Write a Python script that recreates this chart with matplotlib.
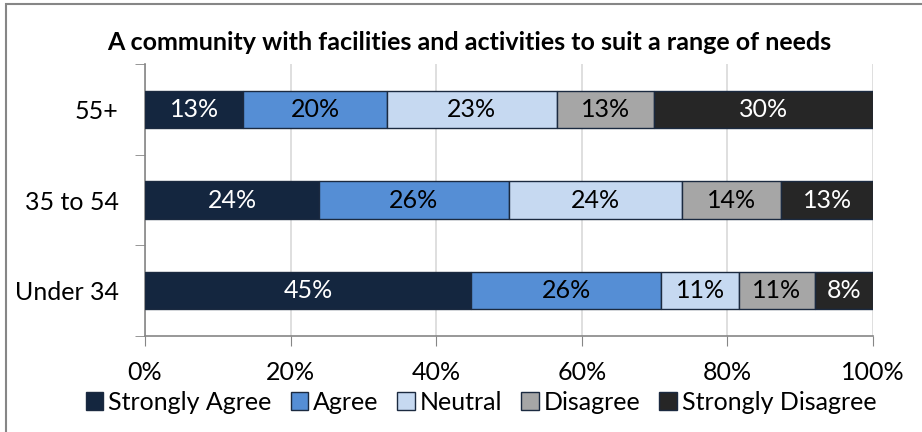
import matplotlib
matplotlib.use("Agg")
import matplotlib.pyplot as plt
from matplotlib.patches import Rectangle
import numpy as np

categories = ["Under 34", "35 to 54", "55+"]
series_names = ["Strongly Agree", "Agree", "Neutral", "Disagree", "Strongly Disagree"]
# values per series, in category order (Under 34, 35 to 54, 55+)
strongly_agree = [44.8, 23.9, 13.5]
agree = [26.1, 26.1, 19.7]
neutral = [10.7, 23.8, 23.4]
disagree = [10.4, 13.6, 13.3]
strongly_disagree = [8.0, 12.6, 30.1]
labels_sa = ["45%", "24%", "13%"]
labels_ag = ["26%", "26%", "20%"]
labels_ne = ["11%", "24%", "23%"]
labels_di = ["11%", "14%", "13%"]
labels_sd = ["8%", "13%", "30%"]
x_ticks = [0, 20, 40, 60, 80, 100]
x_ticklabels = ["0%", "20%", "40%", "60%", "80%", "100%"]
title = "A community with facilities and activities to suit a range of needs"

colors = ["#14263F", "#558ED5", "#C6D9F1", "#A6A6A6", "#262626"]
text_colors = ["white", "black", "black", "black", "white"]

plt.rcParams['font.family'] = ['Lato', 'DejaVu Sans']

fig = plt.figure(figsize=(9.22, 4.32), dpi=100)
ax = fig.add_axes([145/922, 1-336/432, (873-145)/922, (336-64)/432])

series = [strongly_agree, agree, neutral, disagree, strongly_disagree]
labels = [labels_sa, labels_ag, labels_ne, labels_di, labels_sd]
y = np.arange(len(categories))
left = np.zeros(len(categories))
for vals, lab, c, tc, name in zip(series, labels, colors, text_colors, series_names):
    vals = np.array(vals)
    ax.barh(y, vals, left=left, height=0.41, color=c, edgecolor="#1b2a40",
            linewidth=1.0, label=name, zorder=3)
    for yi, l, v, t in zip(y, left, vals, lab):
        ax.text(l + v/2, yi, t, ha="center", va="center", color=tc, fontsize=18, zorder=4)
    left = left + vals

ax.set_xlim(0, 100)
ax.set_ylim(-0.5, 2.5)
ax.set_xticks(x_ticks)
ax.set_xticklabels(x_ticklabels, fontsize=18)
ax.set_yticks(y)
ax.set_yticklabels(categories, fontsize=18)
ax.tick_params(axis="y", length=0, pad=19)
ax.tick_params(axis="x", length=7, color="#868686", pad=11, direction="out")
# category boundary ticks on y axis
ax.set_yticks([-0.5, 0.5, 1.5, 2.5], minor=True)
ax.tick_params(axis="y", which="minor", length=7, color="#868686", direction="out")
ax.grid(axis="x", color="#D9D9D9", linewidth=1.2, zorder=0)
for s in ["top", "right"]:
    ax.spines[s].set_visible(False)
for s in ["left", "bottom"]:
    ax.spines[s].set_color("#868686")
    ax.spines[s].set_linewidth(1.2)

fig.text(469/922, 1-43/432, title, ha="center", va="center", fontsize=18, fontweight="bold")

handles, lbls = ax.get_legend_handles_labels()
fig.legend(handles, lbls, loc="center", bbox_to_anchor=(481/922, 1-402/432), ncol=5,
           frameon=False, fontsize=18, handlelength=0.7, handleheight=0.7,
           handletextpad=0.2, columnspacing=0.75, borderaxespad=0, borderpad=0)

# outer border
fig.add_artist(Rectangle((6/922, -0.05), 2.0, 1.05 - 4/432, transform=fig.transFigure,
                         fill=False, edgecolor="#868686", linewidth=1.5))

fig.savefig("out.png", dpi=100)
